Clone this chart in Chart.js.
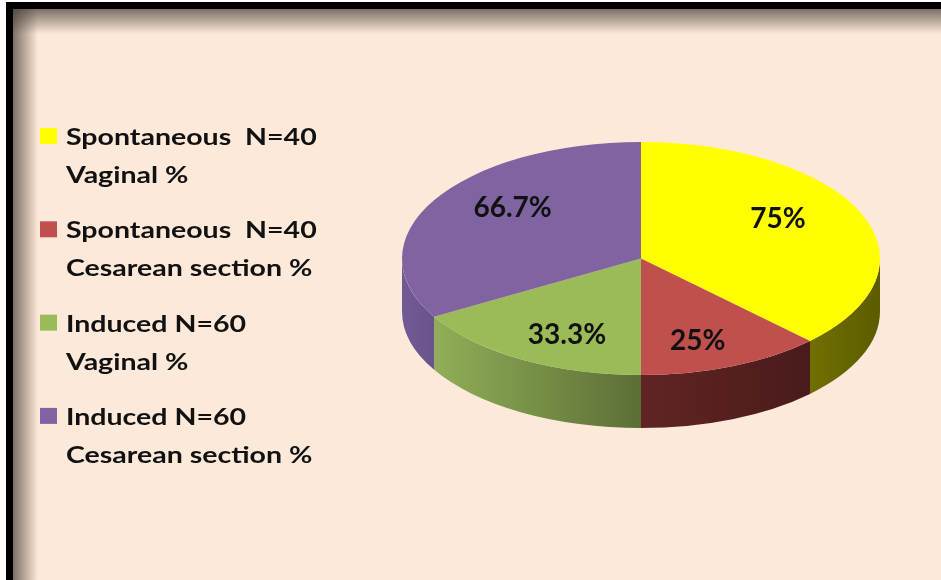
<!DOCTYPE html>
<html>
<head>
<meta charset="utf-8">
<script src="https://cdn.jsdelivr.net/npm/chart.js@4"></script>
<style>
  html, body { margin: 0; padding: 0; background: #fff; }
  #wrap { width: 941px; height: 580px; }
</style>
</head>
<body>
<div id="wrap"><canvas id="myChart" width="941" height="580"></canvas></div>
<script>
const groups = ["Spontaneous  N=40", "Spontaneous  N=40", "Induced N=60", "Induced N=60"];
const outcomes = ["Vaginal %", "Cesarean section %", "Vaginal %", "Cesarean section %"];
const values = [75, 25, 33.3, 66.7];
const valueLabels = ["75%", "25%", "33.3%", "66.7%"];

const topColors = ["#ffff00", "#c0504d", "#9bbb59", "#8064a2"];
// side wall shading, left -> right
const sideColors = [["#707000", "#5c5c00"], ["#612424", "#4a1b1b"], ["#91ae57", "#5b6f36"], ["#725a95", "#6a528c"]];

const TILT = 116.5 / 239; // vertical squash of the pie top
const DEPTH = 53;
const FONT = "Lato, 'Open Sans', sans-serif";

const ctx = document.getElementById("myChart");

// background + framed border with inner shadow
const framePlugin = {
  id: "frame",
  beforeDraw: (chart) => {
    const { ctx, width, height } = chart;
    ctx.save();
    ctx.fillStyle = "#ffffff";
    ctx.fillRect(0, 0, width, height);
    ctx.fillStyle = "#fce9da";
    ctx.fillRect(6, 2, width - 6, height - 2);
    let g = ctx.createLinearGradient(0, 9, 0, 34);
    g.addColorStop(0, "rgba(70,60,50,0.7)");
    g.addColorStop(1, "rgba(70,60,50,0)");
    ctx.fillStyle = g;
    ctx.fillRect(13, 9, width - 13, 25);
    g = ctx.createLinearGradient(13, 0, 38, 0);
    g.addColorStop(0, "rgba(70,60,50,0.7)");
    g.addColorStop(1, "rgba(70,60,50,0)");
    ctx.fillStyle = g;
    ctx.fillRect(13, 9, 25, height - 9);
    ctx.fillStyle = "#000";
    ctx.fillRect(6, 2, width - 6, 7);
    ctx.fillRect(6, 2, 7, height - 2);
    ctx.restore();
  },
};

// fake 3D: draw side walls, then squash the pie top into an ellipse
const pie3dPlugin = {
  id: "pie3d",
  beforeDatasetsDraw: (chart) => {
    const { ctx } = chart;
    const arcs = chart.getDatasetMeta(0).data;
    const cx = arcs[0].x, cy = arcs[0].y, r = arcs[0].outerRadius, ry = r * TILT;
    ctx.save();
    arcs.forEach((arc, i) => {
      for (let k = -1; k <= 1; k++) {
        const off = k * 2 * Math.PI;
        const a = Math.max(arc.startAngle, off);
        const b = Math.min(arc.endAngle, off + Math.PI);
        if (b <= a) continue;
        const xl = cx + r * Math.cos(b), xr = cx + r * Math.cos(a);
        const g = ctx.createLinearGradient(xl, 0, xr, 0);
        g.addColorStop(0, sideColors[i][0]);
        g.addColorStop(1, sideColors[i][1]);
        ctx.fillStyle = g;
        ctx.beginPath();
        ctx.ellipse(cx, cy, r, ry, 0, a, b);
        ctx.ellipse(cx, cy + DEPTH, r, ry, 0, b, a, true);
        ctx.closePath();
        ctx.fill();
      }
    });
    ctx.restore();
    ctx.save();
    ctx.translate(cx, cy);
    ctx.scale(1, TILT);
    ctx.translate(-cx, -cy);
  },
  afterDatasetsDraw: (chart) => {
    const { ctx } = chart;
    ctx.restore();
    const arcs = chart.getDatasetMeta(0).data;
    ctx.save();
    ctx.fillStyle = "#111";
    ctx.font = "bold 28px " + FONT;
    ctx.textAlign = "center";
    ctx.textBaseline = "middle";
    arcs.forEach((arc, i) => {
      const mid = (arc.startAngle + arc.endAngle) / 2;
      const x = arc.x + Math.cos(mid) * arc.outerRadius * 0.62;
      const y = arc.y - 4 + Math.sin(mid) * arc.outerRadius * TILT * 0.8;
      ctx.fillText(valueLabels[i], x, y);
    });
    ctx.restore();
  },
};

// two-line legend on the left (text is stretched wide like the original)
const legendPlugin = {
  id: "sideLegend",
  afterDraw: (chart) => {
    const { ctx } = chart;
    const ds = chart.data.datasets[0];
    ctx.save();
    ctx.textBaseline = "alphabetic";
    chart.data.labels.forEach((lines, i) => {
      const base = 145 + i * 93.3;
      ctx.fillStyle = ds.backgroundColor[i];
      ctx.fillRect(40, base - 17, 17, 16);
      ctx.fillStyle = "#111";
      lines.forEach((t, j) => {
        ctx.save();
        ctx.translate(66, base + j * 38);
        ctx.scale(1.24, 1);
        ctx.font = "bold 23px " + FONT;
        ctx.fillText(t, 0, 0);
        ctx.restore();
      });
    });
    ctx.restore();
  },
};

new Chart(ctx, {
  type: "pie",
  data: {
    labels: groups.map((g, i) => [g, outcomes[i]]),
    datasets: [
      {
        data: values,
        backgroundColor: topColors,
        borderWidth: 0,
        hoverOffset: 0,
        clip: false,
      },
    ],
  },
  options: {
    responsive: false,
    animation: false,
    devicePixelRatio: 1,
    events: [],
    layout: { padding: { left: 402, right: 61, top: 19.5, bottom: 82.5 } },
    plugins: {
      legend: { display: false },
      tooltip: { enabled: false },
    },
  },
  plugins: [framePlugin, pie3dPlugin, legendPlugin],
});
</script>
</body>
</html>
